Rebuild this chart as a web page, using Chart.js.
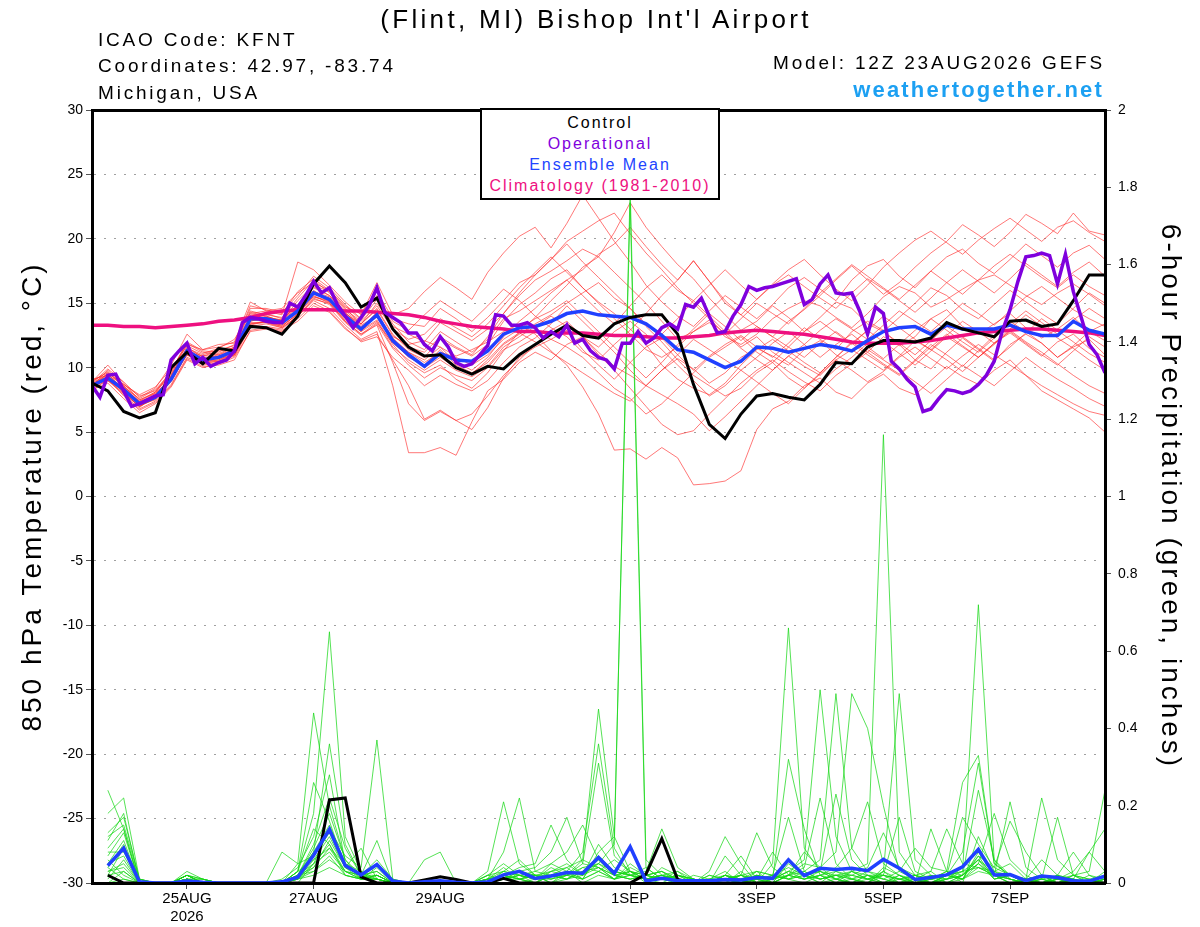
<!DOCTYPE html>
<html>
<head>
<meta charset="utf-8">
<title>(Flint, MI) Bishop Int'l Airport - GEFS 850 hPa Temperature</title>
<script src="https://cdn.jsdelivr.net/npm/chart.js@4.4.1/dist/chart.umd.min.js"></script>
<style>
  html, body { margin: 0; padding: 0; background: #fff; }
  #wrap { position: relative; width: 1200px; height: 927px; overflow: hidden; font-family: 'Liberation Sans', Arial, Helvetica, sans-serif; color: #000; }
  #chart { position: absolute; left: 0; top: 0; }
  .txt { position: absolute; white-space: nowrap; }
  #title { left: 0; width: 1192px; top: 3px; height: 32px; line-height: 32px; text-align: center; font-size: 26px; letter-spacing: 3.3px; }
  .info { left: 98px; height: 24px; line-height: 24px; font-size: 19px; letter-spacing: 2.8px; }
  .infoR { right: 95px; text-align: right; }
  #site { right: 96px; top: 77px; height: 26px; line-height: 26px; font-size: 22px; font-weight: bold; letter-spacing: 2.2px; color: #1ca0f2; }
  #legend { position: absolute; left: 480px; top: 108px; width: 236px; height: 86px; border: 2px solid #000; background: #fff; padding-top: 2px; text-align: center; }
  #legend div { height: 21px; line-height: 21px; font-size: 16px; letter-spacing: 2px; }
</style>
</head>
<body>
<div id="wrap">
  <canvas id="chart" width="1200" height="927"></canvas>
  <div class="txt" id="title">(Flint, MI) Bishop Int'l Airport</div>
  <div class="txt info" style="top:28px">ICAO Code: KFNT</div>
  <div class="txt info" style="top:54px">Coordinates: 42.97, -83.74</div>
  <div class="txt info" style="top:81px">Michigan, USA</div>
  <div class="txt info infoR" style="top:51px; left:auto">Model: 12Z 23AUG2026 GEFS</div>
  <div class="txt" id="site">weathertogether.net</div>
  <div id="legend">
    <div style="color:#000">Control</div>
    <div style="color:#8000dd">Operational</div>
    <div style="color:#2244ff">Ensemble Mean</div>
    <div style="color:#ee1080">Climatology (1981-2010)</div>
  </div>
</div>
<script>
// x is the 6-hour step index from 23AUG 12Z (0) to 8SEP 12Z (64)
const xTickIdx = [6, 14, 22, 34, 42, 50, 58];
const xTickText = [['25AUG', '2026'], '27AUG', '29AUG', '1SEP', '3SEP', '5SEP', '7SEP'];

// 850 hPa temperature (C), 6-hourly
const tCtrl = [8.8,8.2,6.6,6.1,6.5,10.0,11.2,10.3,11.5,11.3, 13.2,13.1,12.6,14.0,16.5,17.9,16.6,14.7,15.4,13.0,
  11.6,10.9,11.0,10.0,9.5,10.1,9.9,11.0,11.8,12.6, 13.3,12.5,12.3,13.4,13.9,14.1,14.1,12.6,8.7,5.6,
  4.5,6.4,7.8,8.0,7.7,7.5,8.7,10.4,10.3,11.6, 12.1,12.1,12.0,12.3,13.5,13.0,12.7,12.4,13.6,13.7,
  13.2,13.4,15.2,17.2,17.2];
const tMean = [8.6,9.2,8.3,7.2,7.7,9.1,11.3,10.6,10.8,11.3, 13.8,13.8,13.5,14.4,15.8,15.3,14.0,13.0,14.1,12.1,
  11.0,10.1,11.1,10.6,10.5,11.3,12.6,13.1,13.2,13.6, 14.2,14.4,14.1,14.0,13.9,13.4,12.5,11.4,11.2,10.6,
  10.0,10.5,11.6,11.5,11.2,11.5,11.8,11.6,11.3,12.1, 12.8,13.1,13.2,12.6,13.3,13.0,13.0,13.0,13.3,12.8,
  12.5,12.5,13.6,12.9,12.6];
const tClim = [13.3,13.3,13.2,13.2,13.1,13.2,13.3,13.4,13.6,13.7, 13.9,14.2,14.4,14.5,14.5,14.5,14.4,14.4,14.3,14.2,
  14.1,13.9,13.6,13.4,13.2,13.1,13.0,12.8,12.8,12.7, 12.7,12.7,12.6,12.5,12.5,12.4,12.3,12.3,12.4,12.5,
  12.7,12.8,12.9,12.8,12.7,12.6,12.4,12.2,12.0,11.9, 11.9,11.9,12.0,12.1,12.3,12.5,12.7,12.8,12.9,13.0,
  13.0,12.9,12.8,12.7,12.5];
// operational run, 3-hourly (step 0.5)
const tOper = [8.6,7.7,9.4,9.5,8.2,7.0,7.2,7.5,7.8,7.9, 10.6,11.3,11.9,10.3,10.8,10.1,10.4,10.6,11.3,13.5,
  13.9,13.8,13.6,13.5,13.5,15.0,14.7,15.6,16.7,15.8, 16.2,14.9,14.0,13.1,13.9,14.8,16.2,14.3,13.9,13.5,
  12.7,12.7,11.8,11.3,12.4,11.6,10.4,10.1,10.3,11.0, 11.7,14.1,14.0,13.3,13.3,13.5,13.1,12.3,12.8,12.4,
  13.3,11.9,12.2,11.3,10.8,10.6,9.9,11.9,11.9,12.8, 11.9,12.3,13.1,13.4,13.0,14.9,14.7,15.4,14.0,12.7,
  12.8,14.0,14.9,16.3,16.0,16.2,16.3,16.5,16.7,16.9, 14.9,15.3,16.5,17.2,15.8,15.7,15.8,14.4,12.6,14.7,
  14.2,10.5,9.9,9.1,8.5,6.6,6.8,7.6,8.3,8.2, 8.0,8.2,8.7,9.4,10.5,12.8,14.5,16.7,18.6,18.7,
  18.9,18.7,16.5,18.8,15.9,13.9,11.8,11.0,9.6];

// ensemble members, temperature
const tMem01 = [8.9,10.2,8.8,7.5,8.1,9.8,11.9,11.2,11.0,11.6, 14.3,14.0,13.6,15.2,16.4,15.9,14.6,13.4,15.0,13.2,
  12.6,12.0,13.5,12.8,12.1,13.0,14.2,15.6,16.8,17.5, 18.3,19.2,18.6,17.4,16.2,15.0,13.6,12.2,12.8,13.5,
  12.4,11.8,12.6,13.8,14.6,15.2,14.8,13.9,13.1,14.2, 15.5,16.3,15.8,14.7,15.3,16.1,16.8,17.2,16.4,15.6,
  14.9,15.8,16.5,15.7,14.8];
const tMem02 = [8.4,9.0,7.9,6.8,7.4,8.7,10.8,10.3,10.5,10.9, 13.1,13.2,13.0,14.0,15.2,14.6,13.3,12.2,12.8,8.6,
  3.4,3.4,3.8,3.2,5.8,8.2,9.1,10.4,11.2,10.6, 11.8,12.4,11.2,10.1,9.4,8.6,9.8,10.7,9.9,8.8,
  9.6,10.8,11.5,10.9,10.2,11.4,12.1,11.0,10.3,11.2, 12.4,11.8,10.6,9.9,11.2,12.3,11.4,10.5,11.8,12.6,
  11.9,10.8,11.6,12.2,11.0];
const tMem03 = [8.7,9.4,8.1,6.9,7.9,9.3,11.0,10.2,10.4,11.0, 13.4,13.6,13.3,14.1,15.6,15.0,13.6,12.6,13.3,10.4,
  7.2,5.9,6.6,5.9,5.2,6.9,9.2,10.8,11.6,12.2, 12.9,11.4,10.2,9.1,10.4,11.6,12.3,11.0,9.8,10.9,
  11.8,12.5,11.6,10.8,11.9,13.1,12.2,11.4,12.8,13.6, 12.9,11.7,12.4,13.8,14.5,13.2,12.6,13.4,14.2,13.1,
  12.3,13.0,13.9,12.8,12.1];
const tMem04 = [9.0,9.6,8.6,7.3,8.0,9.0,11.2,10.9,11.3,11.5, 13.6,13.9,13.7,14.6,15.5,15.2,14.2,13.3,14.0,12.4,
  11.8,12.1,11.6,10.9,11.4,12.0,12.8,13.4,12.6,11.3, 10.2,8.5,6.4,3.6,3.7,2.9,3.8,3.0,0.9,1.0,
  1.2,2.0,5.2,6.8,7.4,8.6,9.2,8.1,7.6,8.8, 9.5,8.4,7.9,9.0,10.1,9.3,8.7,9.8,10.6,9.4,
  8.2,7.5,6.8,6.1,5.0];
const tMem05 = [8.8,9.9,8.9,7.7,8.4,10.2,12.6,11.4,11.6,12.0, 15.1,14.4,14.1,18.2,17.6,16.4,15.1,14.1,16.6,14.1,
  14.6,15.9,17.0,16.2,15.3,17.4,18.9,20.2,20.9,19.3, 21.2,23.4,21.6,19.8,18.2,16.4,15.1,14.0,13.2,14.4,
  15.6,14.7,13.8,14.9,16.2,17.0,16.1,15.2,16.8,17.9, 18.4,17.1,16.2,17.5,18.6,19.2,18.1,17.3,18.4,19.6,
  18.7,17.8,18.9,19.5,18.4];
const tMem06 = [8.5,9.3,8.0,7.0,7.6,8.9,11.1,10.4,10.6,11.2, 13.5,13.5,13.2,14.2,15.9,15.1,13.8,12.9,13.7,11.8,
  10.4,9.6,10.2,9.1,8.4,9.6,11.3,12.8,13.9,15.2, 16.4,17.8,18.6,20.5,22.8,20.9,19.4,18.0,16.9,15.4,
  14.1,12.9,13.6,14.8,13.9,12.8,13.9,15.1,14.6,13.4, 12.8,13.9,15.0,16.2,15.6,14.5,13.8,14.9,16.0,15.1,
  14.2,13.4,14.6,15.8,15.0];
const tMem07 = [8.6,9.1,8.4,7.4,7.8,9.4,11.6,10.8,10.9,11.4, 14.1,14.2,13.8,14.8,16.2,15.6,14.4,13.4,14.6,12.6,
  11.4,10.8,12.2,11.5,10.9,11.8,13.6,14.9,15.8,16.9, 17.6,16.2,15.1,14.2,13.0,11.8,10.2,9.1,8.4,7.9,
  8.8,10.2,11.4,12.2,11.3,10.4,9.6,10.8,12.0,11.2, 10.3,9.5,10.6,11.8,11.0,10.1,11.3,12.5,13.6,12.8,
  11.9,10.8,11.7,12.8,13.4];
const tMem08 = [8.3,8.8,7.6,6.5,7.2,8.5,10.6,10.0,10.3,10.8, 12.8,13.0,12.8,13.8,15.0,14.4,13.1,12.0,12.4,10.8,
  9.8,8.6,9.4,8.7,8.2,9.0,10.4,11.6,12.3,13.4, 14.8,13.6,12.4,11.2,9.8,8.6,7.9,7.2,6.4,5.1,
  6.2,7.4,8.6,9.8,10.9,10.1,9.4,10.6,11.4,10.6, 9.8,10.9,12.1,11.4,10.6,9.7,10.8,11.9,12.7,11.8,
  10.9,12.0,12.6,11.5,10.8];
const tMem09 = [8.9,9.7,8.5,7.6,8.3,9.6,11.8,11.4,11.8,11.9, 14.6,14.6,14.3,15.6,17.1,16.2,14.9,13.8,15.6,13.6,
  12.9,14.1,15.2,14.4,13.6,14.8,16.1,15.2,14.0,13.1, 12.4,11.2,10.6,11.8,12.9,14.2,15.6,16.8,18.3,16.7,
  15.2,14.1,15.3,16.4,17.2,16.3,15.4,14.6,15.8,16.9, 16.1,15.2,14.3,15.4,16.6,17.6,16.7,15.8,16.9,18.1,
  17.2,16.3,17.4,18.2,17.1];
const tMem10 = [8.7,9.5,8.2,7.1,7.5,9.2,11.4,10.7,10.9,11.1, 13.9,13.7,13.4,14.3,15.7,15.4,14.1,13.2,13.9,12.0,
  10.8,10.2,11.4,10.2,9.6,10.4,11.8,12.6,13.4,14.1, 15.0,15.8,16.6,15.4,14.6,13.2,12.0,10.6,9.4,8.6,
  7.8,8.4,9.6,10.4,9.2,8.4,9.5,10.6,9.8,8.9, 9.7,10.8,11.6,10.7,9.9,10.9,11.8,11.0,10.2,9.4,
  8.6,7.9,7.2,6.6,6.3];
const tMem11 = [8.4,9.6,8.7,7.8,8.2,9.5,11.5,11.0,11.4,11.7, 14.4,14.1,13.9,15.4,16.8,15.8,14.5,13.6,14.8,13.0,
  12.2,12.6,13.8,13.1,12.4,13.4,14.8,16.2,17.4,18.6, 17.4,16.2,15.0,13.8,12.6,11.4,10.8,11.6,12.8,13.7,
  12.6,11.5,10.6,9.8,10.9,11.8,12.9,13.8,13.0,12.2, 13.3,14.4,13.6,12.8,13.9,15.0,14.2,13.3,14.4,15.5,
  16.3,15.4,14.5,13.8,13.2];
const tMem12 = [8.8,9.0,8.0,7.0,7.7,9.0,11.0,10.5,10.7,11.0, 13.2,13.4,13.1,14.0,15.4,14.9,13.5,12.5,13.4,11.5,
  10.2,9.2,10.0,9.4,9.0,10.0,11.4,12.0,12.8,12.2, 11.6,10.8,9.6,8.4,7.6,6.4,7.2,8.4,9.6,10.8,
  11.6,12.4,11.2,10.4,11.6,12.8,13.6,12.7,11.8,12.9, 14.0,13.1,12.2,11.4,12.5,13.6,12.8,11.9,13.0,14.1,
  13.2,12.3,11.5,10.6,9.8];
const tMem13 = [8.6,9.8,8.6,7.5,8.0,9.7,12.0,11.3,11.2,11.8, 14.8,14.5,14.2,15.9,16.9,16.0,14.8,13.7,15.3,13.4,
  12.0,11.4,12.8,12.0,11.2,12.2,13.8,14.4,15.2,16.0, 16.8,17.6,18.8,19.6,20.9,19.4,18.0,16.8,18.3,16.7,
  15.0,14.1,13.2,12.4,13.6,14.5,15.6,16.8,17.9,16.8, 15.7,16.6,17.8,18.9,19.8,21.1,20.3,19.4,20.5,21.9,
  21.2,20.4,22.0,20.6,20.3];
const tMem14 = [8.5,9.2,7.8,6.7,7.3,8.6,10.7,10.1,10.2,10.6, 12.9,13.1,12.9,13.6,14.8,14.3,13.0,12.1,12.6,10.6,
  8.6,6.0,6.7,5.9,6.4,7.8,9.4,10.6,11.8,12.9, 13.6,12.4,11.0,9.8,8.4,7.0,5.6,4.8,5.1,6.4,
  7.6,8.8,9.8,10.6,9.7,8.9,8.2,9.4,10.3,11.4, 10.6,9.8,8.9,8.0,9.1,10.2,9.4,8.6,9.7,10.8,
  9.9,9.1,8.4,7.6,7.0];
const tMem15 = [9.1,9.4,8.7,7.9,8.5,9.9,11.7,11.1,11.5,12.2, 14.2,14.4,14.6,15.8,16.6,16.0,14.7,14.2,15.9,13.8,
  13.4,13.2,14.6,13.8,12.8,13.9,15.2,16.6,17.2,18.4, 19.6,18.2,17.0,15.8,14.6,13.4,12.6,13.8,15.2,16.4,
  17.6,16.4,15.3,16.5,17.6,18.4,17.2,16.1,15.2,16.4, 17.8,18.9,19.9,20.6,19.7,18.8,19.9,20.8,21.6,20.7,
  19.8,20.9,21.4,20.5,19.8];
const tMem16 = [8.2,9.1,8.3,7.2,7.9,9.3,11.4,10.6,10.8,11.3, 13.7,13.6,13.3,14.5,16.0,15.2,13.9,12.8,14.2,12.3,
  11.2,10.4,11.2,10.8,10.2,11.0,12.2,13.0,13.8,14.4, 15.2,14.0,12.8,11.6,10.4,9.2,10.4,11.8,13.0,14.2,
  13.2,12.1,13.2,12.4,11.6,10.8,11.9,12.8,11.9,11.0, 10.2,9.4,10.5,11.6,12.6,11.7,10.8,11.9,12.8,11.9,
  11.0,10.2,11.3,12.4,11.6];
const tMem17 = [8.7,9.3,8.5,7.3,7.6,9.1,11.2,10.7,11.0,11.4, 13.6,14.0,13.6,14.8,15.9,15.5,14.3,13.1,14.3,12.2,
  11.2,10.6,11.6,10.4,9.8,10.8,12.4,13.6,14.6,15.8, 16.8,15.6,14.4,13.4,14.8,16.2,17.2,16.0,15.2,14.0,
  12.8,11.6,12.4,11.2,10.4,9.6,8.8,9.9,10.8,11.9, 12.8,11.9,11.0,12.1,13.2,12.4,11.5,10.6,11.6,12.7,
  13.8,12.9,12.0,11.1,10.4];
const tMem18 = [8.6,9.0,8.2,7.2,7.8,9.0,11.2,10.5,10.6,11.0, 13.3,13.6,13.2,14.2,15.5,15.1,13.7,12.8,13.6,11.6,
  10.6,9.8,10.6,9.8,9.3,10.1,11.6,12.4,13.2,14.0, 13.2,12.4,11.6,12.8,13.6,12.6,11.4,10.2,9.0,7.8,
  8.6,9.8,10.8,11.9,12.8,11.8,10.8,11.8,12.6,11.6, 10.7,11.8,12.9,13.8,12.9,12.0,11.2,12.3,13.4,14.4,
  13.5,12.6,13.7,14.6,13.8];
const tMem19 = [8.8,9.5,8.3,7.4,8.1,9.4,11.4,10.9,11.1,11.6, 14.0,13.9,13.7,14.9,16.3,15.6,14.2,13.4,14.5,12.5,
  11.6,11.2,12.4,11.6,11.0,12.4,14.2,15.8,17.2,18.4, 19.8,20.6,21.4,22.0,20.4,18.9,17.6,16.2,15.0,13.8,
  12.6,13.8,15.0,14.2,13.4,14.6,15.8,16.9,18.0,17.1, 16.2,15.3,16.4,17.5,16.6,15.7,16.8,17.9,18.8,17.9,
  17.0,16.2,17.2,16.3,15.6];
const tMem20 = [8.5,9.2,8.1,7.0,7.6,9.0,11.0,10.4,10.5,11.1, 13.4,13.5,13.1,14.0,15.3,15.0,13.6,12.6,13.5,11.9,
  10.9,10.0,10.8,10.0,9.5,10.6,11.9,12.7,12.0,11.2, 10.4,9.6,8.8,8.0,7.4,8.6,9.8,11.0,12.2,11.4,
  10.6,9.8,8.9,8.0,7.2,8.4,9.6,10.8,11.9,12.9, 12.0,11.1,10.2,11.3,12.4,11.6,10.8,11.8,12.9,12.0,
  11.2,10.3,9.4,8.6,8.0];

// 6-hour precipitation (inches); no value at the initial time
const pCtrl = [null,0.02,0,0,0,0,0,0,0,0, 0,0,0,0,0,0.215,0.22,0.016,0,0,
  0,0.008,0.016,0.009,0,0,0.012,0,0,0, 0,0,0,0,0,0.023,0.115,0.009,0,0,
  0,0,0,0,0,0,0,0,0,0, 0,0,0,0,0,0,0,0,0,0, 0,0,0,0,0];
const pMean = [null,0.045,0.09,0.003,0,0,0.005,0.002,0,0, 0,0,0.003,0.015,0.072,0.139,0.045,0.021,0.048,0.005,
  0,0.003,0.006,0.002,0,0.003,0.021,0.03,0.012,0.018, 0.027,0.025,0.066,0.025,0.094,0.005,0.012,0.006,0.006,0.006,
  0.009,0.008,0.014,0.012,0.06,0.019,0.038,0.035,0.038,0.032, 0.061,0.038,0.009,0.014,0.021,0.042,0.087,0.021,0.022,0.006,
  0.018,0.014,0.006,0.005,0.018];

const pMem01 = [null,0.24,0.14,0,0,0,0.01,0,0,0, 0,0,0,0.03,0.18,0.65,0.12,0.03,0,0,
  0,0,0,0,0,0.02,0.05,0.02,0,0.03, 0.05,0.02,0.1,0.04,0.02,0.03,0.14,0.04,0.01,0,
  0.02,0,0.01,0,0.06,0.02,0,0.01,0,0, 0.03,0.01,0,0,0.02,0.08,0.31,0.05,0.02,0, 0,0.01,0,0,0.03];
const pMem02 = [null,0.18,0.22,0.01,0,0,0.02,0.01,0,0, 0,0,0,0.05,0.44,0.2,0.06,0.01,0.04,0,
  0,0,0,0,0,0,0.03,0.06,0.02,0, 0.02,0.06,0.04,0.01,0.05,0.02,0.01,0,0,0.03,
  0.12,0.05,0,0,0.02,0.08,0.04,0.01,0,0.02, 0,0,0.01,0.03,0,0.02,0.24,0.06,0.01,0, 0.02,0,0.01,0,0];
const pMem03 = [null,0.11,0.18,0,0,0,0.01,0,0,0, 0,0,0,0.02,0.08,0.36,0.1,0.02,0,0,
  0,0,0,0,0,0.01,0.04,0.01,0,0.02, 0.04,0.01,0.03,0.06,0.03,0.01,0.02,0.01,0,0,
  0.07,0.02,0.03,0,0.05,0.02,0,0.03,0.01,0, 0.02,0,0,0.01,0.03,0,0.12,0.03,0.05,0.01, 0,0.02,0,0,0.01];
const pMem04 = [null,0.13,0.17,0.01,0,0,0.02,0,0,0, 0,0,0,0,0.05,0.14,0.07,0.04,0.37,0.01,
  0,0,0,0,0,0,0.02,0,0.01,0.05, 0.03,0,0.02,0.01,0.03,0,0.04,0.02,0.01,0,
  0,0.02,0.13,0.04,0.01,0,0.02,0,0.03,0.01, 0,0.02,0,0,0.01,0.04,0.09,0.02,0,0.01, 0,0,0.02,0,0];
const pMem05 = [null,0.07,0.13,0,0,0,0.01,0,0,0, 0,0,0.01,0.04,0.12,0.28,0.05,0.02,0.02,0,
  0,0,0,0,0,0.02,0.01,0.03,0.02,0, 0.01,0.03,0.05,0.02,0.01,0.02,0.03,0,0.02,0.01,
  0,0.03,0,0.05,0.66,0.09,0.03,0.01,0,0.02, 0.01,0,0,0.02,0,0.01,0.05,0.02,0.01,0, 0,0.01,0,0.02,0];
const pMem06 = [null,0.05,0.07,0,0,0,0.01,0.01,0,0, 0,0,0,0.03,0.26,0.16,0.04,0.01,0.01,0,
  0,0,0,0,0,0,0.02,0.01,0,0.02, 0.02,0.01,0.07,0.03,0.02,0.01,0.02,0.01,0,0,
  0.02,0,0.02,0.01,0.32,0.14,0.02,0,0.01,0, 0.04,0.02,0.01,0,0.01,0.02,0.07,0.01,0.02,0.01, 0,0,0.01,0,0.02];
const pMem07 = [null,0.03,0.05,0,0,0,0.03,0.01,0,0, 0,0,0,0.02,0.1,0.22,0.09,0.02,0.03,0,
  0,0,0,0,0,0.01,0.03,0.02,0.01,0.01, 0.02,0.03,0.04,0.01,0.02,0.04,0.01,0.02,0.01,0,
  0.01,0,0.03,0.02,0.17,0.03,0.01,0.02,0,0.01, 0,0.01,0.02,0,0.02,0.03,0.04,0.02,0,0, 0.01,0,0,0.01,0];
const pMem08 = [null,0.02,0.03,0,0,0,0.02,0,0,0, 0,0,0,0.01,0.06,0.12,0.04,0.09,0.01,0,
  0,0,0,0,0,0.03,0.21,0.05,0.02,0, 0.03,0.02,0.06,0.02,0.03,0.01,0.01,0,0.01,0,
  0.01,0.02,0,0.01,0.03,0.06,0.5,0.12,0.03,0.01, 0.02,0.01,0,0.01,0,0.02,0.06,0.03,0.01,0, 0,0.01,0.02,0,0.01];
const pMem09 = [null,0.04,0.1,0,0,0,0.01,0,0,0, 0,0,0,0.02,0.09,0.18,0.06,0.02,0.11,0,
  0,0,0,0,0,0.01,0.08,0.22,0.03,0.02, 0.01,0.04,0.03,0.01,0.04,0.02,0.03,0.01,0,0.02,
  0.01,0,0.02,0,0.02,0.04,0.22,0.05,0.01,0, 0.03,0,0.01,0,0.02,0.01,0.08,0.02,0,0.01, 0.02,0,0,0,0];
const pMem10 = [null,0.09,0.14,0,0,0,0.02,0,0,0, 0,0,0,0.03,0.14,0.1,0.03,0.01,0.02,0,
  0,0,0,0,0,0,0.02,0.04,0.05,0.15, 0.06,0.02,0.05,0.03,0.02,0.01,0.02,0,0.01,0,
  0.02,0.01,0,0.02,0.01,0.03,0.06,0.49,0.09,0.03, 0.01,0,0.02,0,0.01,0.02,0.05,0.01,0.02,0, 0.01,0,0.01,0,0.02];
const pMem11 = [null,0.06,0.02,0,0,0,0.01,0,0,0, 0,0,0,0.01,0.04,0.09,0.05,0.03,0.01,0,
  0,0,0,0,0,0.01,0.02,0.03,0.04,0.08, 0.17,0.05,0.04,0.02,0.01,0.02,0.01,0.03,0,0.01,
  0.03,0,0.01,0.02,0.04,0.02,0.03,0.23,0.06,0.02, 0,0.02,0,0.01,0.03,0.01,0.07,0.04,0.02,0.01, 0,0.01,0,0,0.01];
const pMem12 = [null,0.01,0.06,0,0,0,0.02,0,0,0, 0,0,0.08,0.05,0.07,0.13,0.04,0.02,0.06,0.01,
  0,0,0,0,0,0.01,0.01,0.02,0.03,0.05, 0.08,0.15,0.06,0.03,0.02,0.01,0,0.02,0.01,0,
  0.01,0.02,0.01,0,0.02,0.05,0.04,0.08,0.49,0.4, 0.2,0.03,0.01,0,0.02,0.01,0.04,0.02,0.01,0, 0.02,0,0.01,0,0];
const pMem13 = [null,0,0.01,0,0,0,0.01,0,0,0, 0,0,0,0.02,0.05,0.08,0.03,0.01,0.02,0,
  0,0,0,0,0,0,0.01,0.02,0.01,0.03, 0.04,0.06,0.45,0.12,0.03,0.02,0.01,0.01,0,0,
  0.02,0.01,0.02,0.01,0.03,0.01,0.02,0.04,0.09,0.21, 0.05,0.02,0,0.14,0.03,0.02,0.06,0.01,0.02,0, 0,0.02,0.01,0,0.01];
const pMem14 = [null,0.03,0.04,0,0,0,0.01,0.01,0,0, 0,0,0,0.01,0.03,0.07,0.02,0.01,0.01,0,
  0,0,0,0,0,0,0.02,0.01,0.02,0.01, 0.03,0.08,0.36,0.09,0.02,0.01,0.02,0,0.01,0,
  0.01,0,0.02,0.01,0.02,0.03,0.01,0.02,0.03,0.05, 1.16,0.08,0.02,0.01,0.02,0.01,0.03,0.02,0.01,0, 0.01,0,0.02,0.01,0];
const pMem15 = [null,0.08,0.08,0.01,0,0,0.02,0,0,0, 0,0,0,0.02,0.04,0.11,0.04,0.02,0.03,0,
  0,0,0,0,0,0.02,0.03,0.02,0.01,0.04, 0.02,0.05,0.31,0.07,0.03,0.02,0.01,0.02,0,0.01,
  0.02,0.01,0.03,0.02,0.01,0.02,0.03,0.01,0.02,0.04, 0.13,0.04,0.02,0.03,0.14,0.05,0.04,0.03,0.02,0.01, 0.22,0.06,0.02,0.03,0.24];
const pMem16 = [null,0.02,0.09,0,0,0,0.01,0,0,0, 0,0,0,0.03,0.06,0.09,0.03,0.02,0.01,0,
  0,0,0,0,0,0.01,0.02,0.01,0.02,0.03, 0.02,0.04,0.05,0.1,1.8,0.06,0.02,0.01,0,0,
  0.01,0.02,0,0.01,0.02,0.01,0.02,0.03,0.02,0.01, 0.03,0.49,0.06,0.02,0.01,0.02,0.05,0.18,0.06,0.02, 0,0.01,0.03,0.08,0.14];
const pMem17 = [null,0.05,0.11,0,0,0,0.01,0,0,0, 0,0,0,0.02,0.08,0.15,0.05,0.01,0.02,0,
  0,0,0,0,0,0,0.01,0.03,0.02,0.02, 0.03,0.01,0.08,0.12,1.76,0.04,0.01,0.02,0.01,0,
  0.01,0,0.02,0.01,0.03,0.02,0.01,0.02,0.01,0.02, 0.02,0.17,0.03,0.01,0.02,0.03,0.06,0.02,0.21,0.04, 0.01,0.17,0.02,0.01,0.02];
const pMem18 = [null,0.12,0.15,0.01,0,0,0.02,0,0,0, 0,0,0,0.01,0.05,0.1,0.02,0.01,0.02,0,
  0,0.06,0.08,0,0,0.01,0.02,0.01,0,0.02, 0.01,0.02,0.04,0.02,0.01,0.02,0.03,0.01,0,0.02,
  0.01,0.02,0.01,0,0.02,0.01,0.02,0.01,0.03,0.02, 0.01,0.03,0.09,0.04,0.03,0.26,0.33,0.05,0.02,0.01, 0.06,0.02,0.08,0.02,0.01];
const pMem19 = [null,0.04,0.01,0,0,0,0.02,0.01,0,0, 0,0,0,0.02,0.03,0.06,0.03,0.02,0.01,0,
  0,0,0,0,0,0,0.01,0.02,0.01,0.02, 0.01,0.03,0.06,0.02,0.03,0.01,0.02,0.03,0.01,0,
  0.02,0.07,0.01,0.08,0.02,0.01,0.03,0.02,0.01,0.03, 0.02,0.01,0.02,0.01,0.02,0.17,0.1,0.04,0.16,0.08, 0.02,0.01,0.01,0.08,0.03];
const pMem20 = [null,0,0.03,0,0,0,0.01,0,0,0, 0,0,0,0.01,0.02,0.04,0.02,0.01,0.01,0,
  0,0,0,0,0,0,0.01,0.01,0.02,0.01, 0.02,0.01,0.03,0.01,0.02,0.01,0.01,0.02,0,0.01,
  0.01,0,0.01,0.02,0.01,0.02,0.01,0.02,0.02,0.01, 0.02,0.01,0.01,0.02,0.01,0.03,0.72,0.06,0.02,0.01, 0.01,0.02,0.01,0,0.01];

const tMembers = [tMem01, tMem02, tMem03, tMem04, tMem05, tMem06, tMem07, tMem08, tMem09, tMem10,
  tMem11, tMem12, tMem13, tMem14, tMem15, tMem16, tMem17, tMem18, tMem19, tMem20];
const pMembers = [pMem01, pMem02, pMem03, pMem04, pMem05, pMem06, pMem07, pMem08, pMem09, pMem10,
  pMem11, pMem12, pMem13, pMem14, pMem15, pMem16, pMem17, pMem18, pMem19, pMem20];

const FONT = "'Liberation Sans', Arial, Helvetica, sans-serif";

function pts(arr, step) {
    const s = step || 1;
    return arr.map((v, i) => ({ x: i * s, y: v }));
}

function line(label, data, color, width, axis, order) {
    return { label, data, borderColor: color, backgroundColor: color, borderWidth: width,
        yAxisID: axis, order, pointRadius: 0, tension: 0, fill: false };
}

const datasets = [];
tMembers.forEach((m, k) => datasets.push(line('T member ' + (k + 1), pts(m), 'rgba(255,40,40,0.7)', 0.9, 'y', 20)));
pMembers.forEach((m, k) => datasets.push(line('P member ' + (k + 1), pts(m), 'rgba(20,215,20,0.8)', 0.9, 'y2', 19)));
datasets.push(line('Control precip', pts(pCtrl), '#000000', 3, 'y2', 8));
datasets.push(line('Mean precip', pts(pMean), '#2040ff', 3.5, 'y2', 7));
datasets.push(line('Climatology (1981-2010)', pts(tClim), '#ee1080', 3.5, 'y', 4));
datasets.push(line('Ensemble Mean', pts(tMean), '#2040ff', 3.5, 'y', 3));
datasets.push(line('Control', pts(tCtrl), '#000000', 3, 'y', 2));
datasets.push(line('Operational', pts(tOper, 0.5), '#7f00dd', 3.5, 'y', 1));

// wide lettering for the axis titles only (titles are drawn before the datasets)
const spacing = {
    id: 'spacing',
    beforeDraw(c) { c.ctx.letterSpacing = '3px'; },
    beforeDatasetsDraw(c) { c.ctx.letterSpacing = '0px'; },
    afterDraw(c) { c.ctx.letterSpacing = '0px'; },
};

const tickFont = { family: FONT, size: 14 };

new Chart(document.getElementById('chart').getContext('2d'), {
    type: 'line',
    data: { datasets },
    plugins: [spacing],
    options: {
        responsive: false,
        devicePixelRatio: 1,
        animation: false,
        events: [],
        layout: { padding: { top: 110, left: 0, right: 0, bottom: 0 } },
        plugins: { legend: { display: false }, tooltip: { enabled: false } },
        scales: {
            x: {
                type: 'linear', position: 'bottom', min: 0, max: 64,
                afterFit: s => { s.height = 44; },
                afterBuildTicks: s => { s.ticks = xTickIdx.map(v => ({ value: v })); },
                ticks: {
                    autoSkip: false, maxRotation: 0, padding: 1, z: 1, color: '#000',
                    font: { family: FONT, size: 15 },
                    callback: v => { const k = xTickIdx.indexOf(v); return k < 0 ? '' : xTickText[k]; },
                },
                grid: { drawOnChartArea: false, drawTicks: true, tickLength: 6, tickColor: '#444', tickWidth: 1, tickBorderDash: [] },
                border: { display: true, color: '#000', width: 3, z: 1 },
            },
            top: {
                type: 'linear', position: 'top', min: 0, max: 64,
                afterFit: s => { s.height = 0; },
                ticks: { display: false },
                grid: { display: false },
                border: { display: true, color: '#000', width: 3, z: 1 },
            },
            y: {
                type: 'linear', position: 'left', min: -30, max: 30,
                afterFit: s => { s.width = 92; },
                ticks: { stepSize: 5, padding: 3, z: 1, color: '#000', font: tickFont },
                grid: { color: '#a0a0a0', lineWidth: 1, drawTicks: true, tickLength: 6, tickColor: '#555', tickWidth: 1, tickBorderDash: [] },
                border: { display: true, color: '#000', width: 3, dash: [2, 8], z: 1 },
                title: {
                    display: true, text: '850 hPa Temperature (red, \u00B0C)', color: '#000',
                    font: { family: FONT, size: 28 }, padding: { top: 16, bottom: 0 },
                },
            },
            y2: {
                type: 'linear', position: 'right', min: 0, max: 2,
                afterFit: s => { s.width = 95; },
                ticks: { stepSize: 0.2, padding: 7, z: 1, color: '#000', font: tickFont,
                    callback: v => String(+v.toFixed(1)) },
                grid: { drawOnChartArea: false, drawTicks: true, tickLength: 6, tickColor: '#555', tickWidth: 1, tickBorderDash: [] },
                border: { display: true, color: '#000', width: 3, z: 1 },
                title: {
                    display: true, text: '6-hour Precipitation (green, inches)', color: '#000',
                    font: { family: FONT, size: 28 }, padding: { top: 13, bottom: 0 },
                },
            },
        },
    },
});
</script>
</body>
</html>
